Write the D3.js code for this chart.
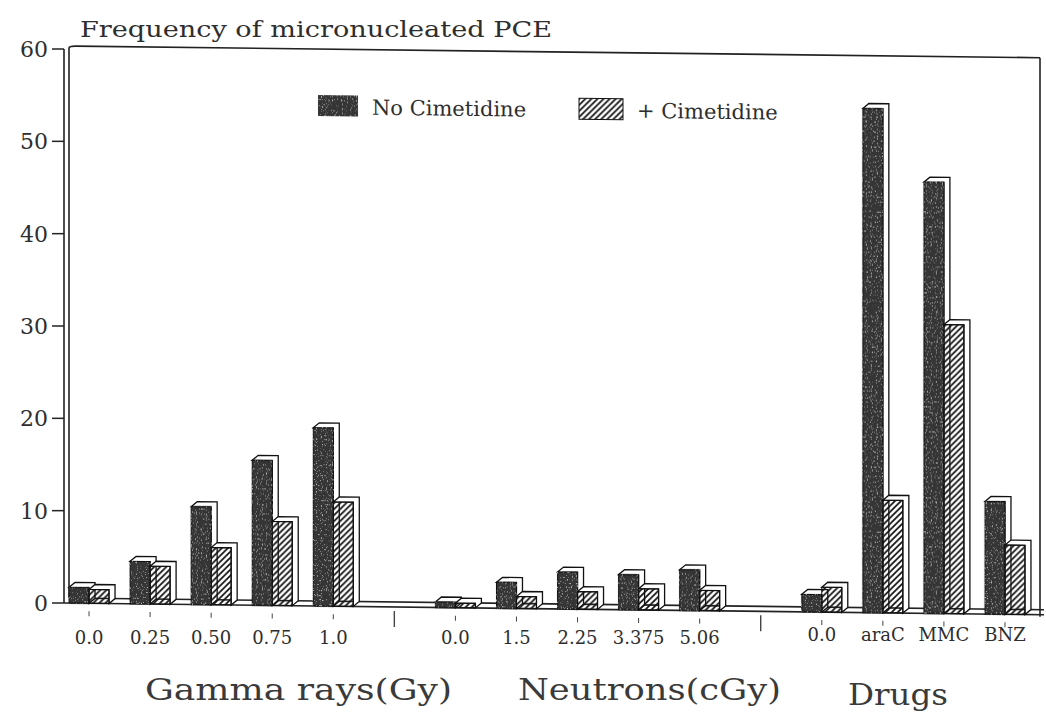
<!DOCTYPE html>
<html>
<meta charset="utf-8">
<style>
body { margin: 0; background: #fff; }
svg { display: block; }
text { font-family: "DejaVu Serif", serif; fill: #2e2e2e; }
.frame { fill: none; stroke: #222; stroke-width: 1.6; }
.bar-face { fill: #fff; stroke: #111; stroke-width: 1.3; }
</style>
<body>
<svg width="1046" height="718"></svg>
<script src="https://cdn.jsdelivr.net/npm/d3@7/dist/d3.min.js"></script>
<script>

// categories
var gammaDoses = ["0.0", "0.25", "0.50", "0.75", "1.0"];
var neutronDoses = ["0.0", "1.5", "2.25", "3.375", "5.06"];
var drugNames = ["0.0", "araC", "MMC", "BNZ"];
var groupNames = ["Gamma rays(Gy)", "Neutrons(cGy)", "Drugs"];
var seriesNames = ["No Cimetidine", "+ Cimetidine"];

// values (gamma, neutrons, drugs)
var noCimetidine = [1.7, 4.6, 10.6, 15.7, 19.3, 0.6, 2.8, 4.0, 3.8, 4.4, 1.9, 54.6, 46.7, 12.2];
var plusCimetidine = [1.5, 4.1, 6.2, 9.1, 11.3, 0.5, 1.3, 1.9, 2.3, 2.2, 2.7, 12.2, 31.3, 7.5];

var yTicks = [0, 10, 20, 30, 40, 50, 60];

var svg = d3.select("svg");

var x0 = 64, x1 = 1040;
var skew = 0.012; // the scan is slightly sheared

// slots: categories plus one empty slot between groups
var slots = [];
gammaDoses.forEach(function(d, i) { slots.push({key: "g" + i, label: d}); });
slots.push({key: "sep1", sep: true});
neutronDoses.forEach(function(d, i) { slots.push({key: "n" + i, label: d}); });
slots.push({key: "sep2", sep: true});
drugNames.forEach(function(d, i) { slots.push({key: "d" + i, label: d}); });

var cats = slots.filter(function(s) { return !s.sep; });
cats.forEach(function(c, i) { c.a = noCimetidine[i]; c.b = plusCimetidine[i]; });

var x = d3.scaleBand()
    .domain(slots.map(function(s) { return s.key; }))
    .range([58.5, 1035.5]);

var y = d3.scaleLinear()
    .domain([0, 60])
    .range([603, 49]);

var cx = function(k) { return x(k) + x.bandwidth() / 2; };

// hatch pattern
var defs = svg.append("defs");
defs.append("pattern")
    .attr("id", "hatch")
    .attr("patternUnits", "userSpaceOnUse")
    .attr("width", 6)
    .attr("height", 6)
  .append("path")
    .attr("d", "M-1,7 L7,-1 M-1,1 L1,-1 M5,7 L7,5")
    .attr("stroke", "#111")
    .attr("stroke-width", 1.7);

// sparse light specks on the dark bars, like the photocopy toner
var grain = defs.append("filter").attr("id", "grain");
grain.append("feTurbulence")
    .attr("type", "fractalNoise")
    .attr("baseFrequency", 0.8)
    .attr("numOctaves", 1)
    .attr("seed", 3)
    .attr("result", "noise");
grain.append("feColorMatrix")
    .attr("in", "noise")
    .attr("type", "matrix")
    .attr("values", "0 0 0 0 0.62  0 0 0 0 0.62  0 0 0 0 0.62  0 0 0 -4.5 1.75")
    .attr("result", "specks");
grain.append("feComposite")
    .attr("in", "specks")
    .attr("in2", "SourceGraphic")
    .attr("operator", "in")
    .attr("result", "clipped");
grain.append("feMerge").selectAll("feMergeNode")
    .data(["SourceGraphic", "clipped"])
  .enter().append("feMergeNode")
    .attr("in", function(d) { return d; });

// title
svg.append("text")
    .attr("x", 80)
    .attr("y", 37)
    .attr("font-size", 23)
    .attr("textLength", 472)
    .attr("lengthAdjust", "spacingAndGlyphs")
    .text("Frequency of micronucleated PCE");

// y axis ticks and labels
var yAxis = svg.append("g");
yAxis.selectAll("line")
    .data(yTicks)
  .enter().append("line")
    .attr("x1", 52)
    .attr("x2", x0)
    .attr("y1", function(d) { return y(d); })
    .attr("y2", function(d) { return y(d); })
    .attr("stroke", "#222")
    .attr("stroke-width", 1.5);
yAxis.selectAll("text")
    .data(yTicks)
  .enter().append("text")
    .attr("x", 48)
    .attr("y", function(d) { return y(d); })
    .attr("dy", "0.36em")
    .attr("text-anchor", "end")
    .attr("font-size", 22)
    .text(function(d) { return d; });

// sheared plot area
var plot = svg.append("g")
    .attr("transform", "matrix(1," + skew + ",0,1,0," + (-skew * x0) + ")");

var dx = 6, dy = 5;

// back wall / frame
plot.append("path")
    .attr("class", "frame")
    .attr("d", "M" + x0 + "," + y(0) + "V" + y(60) +
              "M" + (x0 + 5) + "," + (y(0) - dy) + "V" + (y(60) - 1) + "Q" + (x0 + 5) + "," + (y(60) - 3) + " " + (x0 + 12) + "," + (y(60) - 3) + "H" + x1 +
              "M" + x1 + "," + (y(60) - 3) + "V" + (y(0) + 2));

// floor
plot.append("path")
    .attr("class", "frame")
    .attr("d", "M" + x0 + "," + y(0) + "H" + (x1 + 4) +
              "M" + (x0 + 5) + "," + (y(0) - dy) + "H" + (x1 + 4));

// category ticks under the floor
plot.selectAll(".tick")
    .data(slots)
  .enter().append("line")
    .attr("class", "tick")
    .attr("x1", function(d) { return cx(d.key); })
    .attr("x2", function(d) { return cx(d.key); })
    .attr("y1", function(d) { return y(0) + (d.sep ? 4 : 8); })
    .attr("y2", function(d) { return y(0) + (d.sep ? 20 : 13); })
    .attr("stroke", "#444")
    .attr("stroke-width", function(d) { return d.sep ? 1.4 : 1; });

// 3d bar: white top and side faces behind the front face
function bar3d(g, left, w, v, fill, dark) {
  var top = y(v), base = y(0);
  g.append("path")
      .attr("class", "bar-face")
      .attr("d", "M" + left + "," + top +
                 "L" + (left + dx) + "," + (top - dy) +
                 "H" + (left + w + dx) +
                 "V" + (base - dy) +
                 "L" + (left + w) + "," + base +
                 "V" + top + "Z");
  g.append("rect")
      .attr("x", left)
      .attr("y", top)
      .attr("width", w)
      .attr("height", base - top)
      .attr("fill", fill)
      .attr("stroke", "#111")
      .attr("stroke-width", 1)
      .attr("filter", dark ? "url(#grain)" : null);
}

var bars = plot.append("g");
cats.forEach(function(c) {
  var m = cx(c.key);
  var g = bars.append("g");
  bar3d(g, m - 20, 20, c.a, "#363636", true);
  bar3d(g, m, 20, c.b, "url(#hatch)", false);
});

// legend
var legend = plot.append("g");
legend.append("rect")
    .attr("x", 318).attr("y", 92).attr("width", 40).attr("height", 21)
    .attr("fill", "#363636")
    .attr("filter", "url(#grain)");
legend.append("text")
    .attr("x", 372).attr("y", 111)
    .attr("font-size", 21)
    .text(seriesNames[0]);
legend.append("rect")
    .attr("x", 579).attr("y", 92).attr("width", 44).attr("height", 21)
    .attr("fill", "url(#hatch)")
    .attr("stroke", "#111");
legend.append("text")
    .attr("x", 637).attr("y", 111)
    .attr("font-size", 21)
    .text(seriesNames[1]);

// category labels
svg.append("g").selectAll("text")
    .data(cats)
  .enter().append("text")
    .attr("x", function(d) { return cx(d.key); })
    .attr("y", function(d) { return d.key[0] == "d" ? 641 : 644; })
    .attr("text-anchor", "middle")
    .attr("font-size", 18)
    .text(function(d) { return d.label; });

// group labels
var groupPos = [[145, 700, 307], [518, 700, 263], [848, 705, 100]];
svg.append("g").selectAll("text")
    .data(groupNames)
  .enter().append("text")
    .attr("x", function(d, i) { return groupPos[i][0]; })
    .attr("y", function(d, i) { return groupPos[i][1]; })
    .attr("textLength", function(d, i) { return groupPos[i][2]; })
    .attr("lengthAdjust", "spacingAndGlyphs")
    .attr("font-size", 29)
    .style("fill", "#3a3a3a")
    .text(function(d) { return d; });

</script>
</body>
</html>
